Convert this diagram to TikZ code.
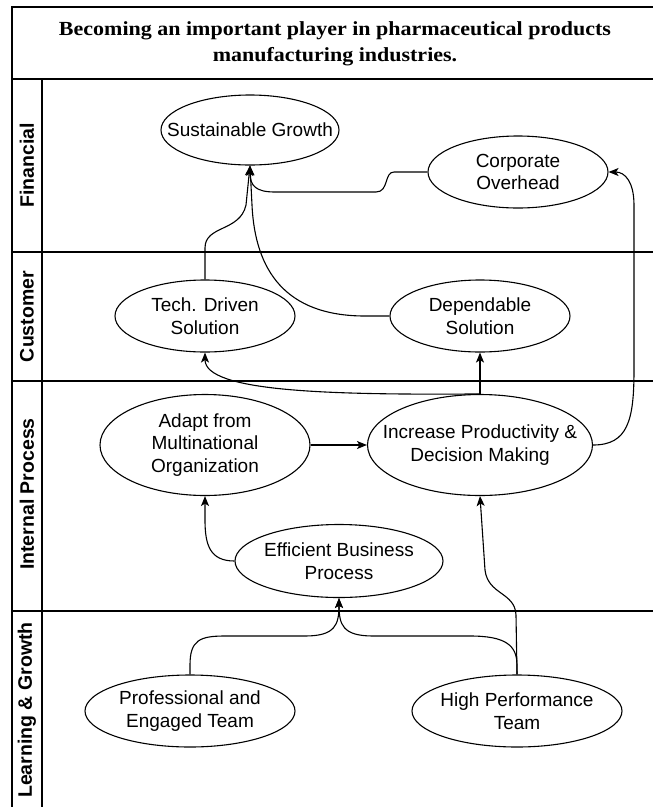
\documentclass[tikz,border=0pt]{standalone}
\usepackage{fontspec}
\setmainfont{Liberation Sans}
\newfontfamily\titlefont[FakeStretch=1.1]{Liberation Serif}
\usetikzlibrary{shapes.geometric,arrows.meta}
\begin{document}
\begin{tikzpicture}[x=1pt,y=-1pt,
  oval/.style={draw, ellipse, line width=1.1pt, inner sep=0pt},
  lbl/.style={align=center, font=\fontsize{19}{22.7}\selectfont, inner sep=0pt},
  lanelbl/.style={rotate=90, font=\bfseries\fontsize{19.5}{22}\selectfont, inner sep=0pt},
  arr/.style={line width=1.1pt, -{Stealth[length=10pt,width=8pt,inset=2.5pt]}},
  con/.style={line width=1.1pt},
  frame/.style={line width=1.4pt},
  sep/.style={line width=1.1pt}]
\useasboundingbox (0,0) rectangle (653,807);
\clip (0,0) rectangle (653,807);
\fill[white] (0,0) rectangle (653,807);
% frame and lanes
\draw[frame] (12,7) rectangle (662,815);
\draw[frame] (12,79) -- (662,79);
\draw[sep] (42,79) -- (42,815);
\draw[sep] (12,252) -- (662,252);
\draw[sep] (12,381) -- (662,381);
\draw[sep] (12,611) -- (662,611);
% title
\node[font=\titlefont\bfseries\fontsize{20}{26}\selectfont, align=center, inner sep=0pt] (title) at (335,44)
  {Becoming an important player in pharmaceutical products\\manufacturing industries.};
% lane labels
\node[lanelbl] (lf) at (27,165.5) {Financial};
\node[lanelbl] (lc) at (27,316.5) {Customer};
\node[lanelbl] (li) at (27,494) {Internal Process};
\node[lanelbl] (ll) at (27,710) {Learning \& Growth};
% ellipses
\node[oval, minimum width=178pt, minimum height=70pt] (sg) at (250,130) {};
\node[oval, minimum width=180pt, minimum height=72pt] (co) at (518,172) {};
\node[oval, minimum width=180pt, minimum height=72pt] (td) at (205,316) {};
\node[oval, minimum width=180pt, minimum height=72pt] (ds) at (480,316) {};
\node[oval, minimum width=210pt, minimum height=101pt] (ad) at (205,445) {};
\node[oval, minimum width=225pt, minimum height=101pt] (ip) at (480,445) {};
\node[oval, minimum width=208pt, minimum height=73pt] (eb) at (339,561) {};
\node[oval, minimum width=210pt, minimum height=72pt] (pe) at (190,711) {};
\node[oval, minimum width=210pt, minimum height=72pt] (hp) at (517,711) {};
% texts
\node[lbl] (sgt) at (sg) {Sustainable Growth};
\node[lbl] (cot) at (co) {Corporate\\Overhead};
\node[lbl] (tdt) at (td) {Tech. Driven\\Solution};
\node[lbl] (dst) at (ds) {Dependable\\Solution};
\node[lbl] (adt) at (ad) {Adapt from\\Multinational\\Organization};
\node[lbl] (ipt) at (ip) {Increase Productivity \&\\Decision Making};
\node[lbl] (ebt) at (eb) {Efficient Business\\Process};
\node[lbl] (pet) at (pe) {Professional and\\Engaged Team};
\node[lbl] (hpt) at (hp) {High Performance\\Team};
% connectors
\draw[arr] (co.west) -- (394,172) .. controls (384,172) and (389,192) .. (376,192)
  -- (275,192) .. controls (256,192) and (250,186) .. (sg.south);
\draw[arr] (td.north) -- (205,248) .. controls (205,225) and (240,232) .. (246,205) -- (sg.south);
\draw[arr] (ds.west) -- (365,316) .. controls (285,316) and (255,270) .. (252,205) -- (sg.south);
\draw[arr] (ip.north) -- (ds.south);
\draw[arr] (ip.north) .. controls (330,395) and (205,392) .. (td.south);
\draw[arr] (ad.east) -- (ip.west);
\draw[arr] (eb.west) .. controls (210,561) and (205,545) .. (205,520) -- (ad.south);
\draw[arr] (ip.east) .. controls (628,445) and (634,420) .. (634,370) -- (634,205)
  .. controls (634,182) and (625,172) .. (co.east);
\draw[arr] (pe.north) -- (190,665) .. controls (190,640) and (200,636) .. (225,636)
  -- (305,636) .. controls (335,636) and (339,625) .. (eb.south);
\draw[arr] (hp.north) -- (517,665) .. controls (517,645) and (505,636) .. (470,636)
  -- (373,636) .. controls (343,636) and (339,625) .. (eb.south);
\draw[arr] (hp.north) -- (516,615) .. controls (515,592) and (488,595) .. (485,570) -- (ip.south);
\end{tikzpicture}
\end{document}
